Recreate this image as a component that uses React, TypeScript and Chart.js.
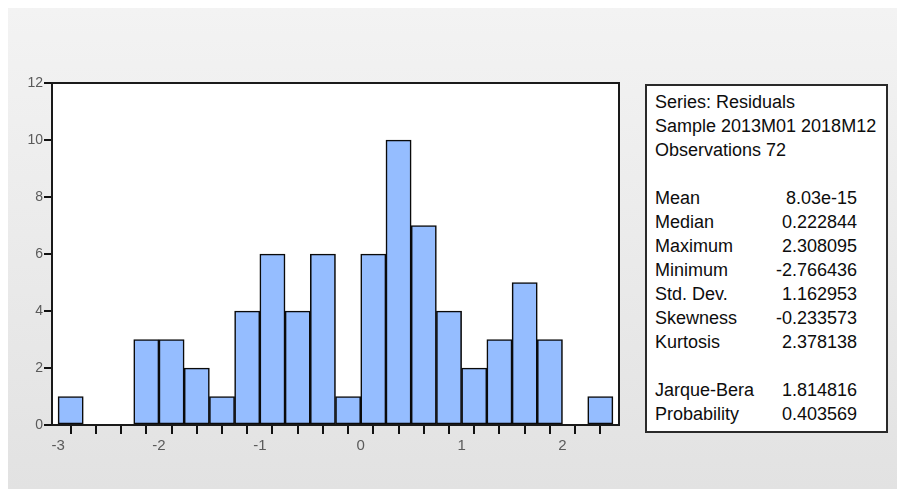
import React, { useEffect, useRef } from "react";
import { Chart, registerables } from "chart.js";

Chart.register(...registerables);

// ---- data ----
const binCenters = [
  -2.875, -2.625, -2.375, -2.125, -1.875, -1.625, -1.375, -1.125, -0.875, -0.625, -0.375,
  -0.125, 0.125, 0.375, 0.625, 0.875, 1.125, 1.375, 1.625, 1.875, 2.125, 2.375,
];
const counts = [1, 0, 0, 3, 3, 2, 1, 4, 6, 4, 6, 1, 6, 10, 7, 4, 2, 3, 5, 3, 0, 1];
const xTickValues = [
  -3, -2.75, -2.5, -2.25, -2, -1.75, -1.5, -1.25, -1, -0.75, -0.5, -0.25, 0, 0.25, 0.5,
  0.75, 1, 1.25, 1.5, 1.75, 2, 2.25, 2.5,
];
const xMin = -3.06;
const xMax = 2.56;
const yMin = 0;
const yMax = 12;
const yStep = 2;

const headerLines = ["Series: Residuals", "Sample 2013M01 2018M12", "Observations 72"];
const statLabels = ["Mean", "Median", "Maximum", "Minimum", "Std. Dev.", "Skewness", "Kurtosis"];
const statValues = ["8.03e-15", "0.222844", "2.308095", "-2.766436", "1.162953", "-0.233573", "2.378138"];
const testLabels = ["Jarque-Bera", "Probability"];
const testValues = ["1.814816", "0.403569"];

const FONT = "'Liberation Sans', Arial, sans-serif";

const framePlugin = {
  id: "frame",
  beforeDraw(chart: any) {
    const { ctx, chartArea } = chart;
    ctx.save();
    ctx.fillStyle = "#ffffff";
    ctx.fillRect(chartArea.left, chartArea.top, chartArea.right - chartArea.left, chartArea.bottom - chartArea.top);
    ctx.restore();
  },
  afterDatasetsDraw(chart: any) {
    const { ctx, chartArea } = chart;
    ctx.save();
    ctx.strokeStyle = "#1a1a1a";
    ctx.lineWidth = 2;
    ctx.strokeRect(chartArea.left, chartArea.top, chartArea.right - chartArea.left, chartArea.bottom - chartArea.top);
    ctx.restore();
  },
};

export default function App() {
  const canvasRef = useRef<HTMLCanvasElement | null>(null);

  useEffect(() => {
    if (!canvasRef.current) return;
    Chart.defaults.font.family = FONT;
    const chart = new Chart(canvasRef.current, {
      type: "bar",
      data: {
        datasets: [
          {
            label: "Residuals",
            data: binCenters.map((x, i) => ({ x, y: counts[i] })),
            backgroundColor: "#95bdff",
            borderColor: "#0a0a0a",
            borderWidth: 1.6,
            borderSkipped: false,
            barPercentage: 1,
            categoryPercentage: 1,
          },
        ],
      },
      options: {
        animation: false,
        responsive: true,
        maintainAspectRatio: false,
        layout: { padding: { left: 0, top: 75, right: 278, bottom: 0 } },
        plugins: {
          legend: { display: false },
          tooltip: { enabled: false },
        },
        scales: {
          x: {
            type: "linear",
            min: xMin,
            max: xMax,
            offset: false,
            afterBuildTicks: (scale: any) => {
              scale.ticks = xTickValues.map((v) => ({ value: v }));
            },
            afterFit: (scale: any) => {
              scale.height = 64;
            },
            border: { display: false },
            grid: {
              drawOnChartArea: false,
              drawTicks: true,
              tickLength: 9,
              color: "#111111",
              lineWidth: 2,
            },
            ticks: {
              autoSkip: false,
              maxRotation: 0,
              padding: 3,
              color: "#5a5a5a",
              font: { size: 15, family: FONT },
              callback: (v: any) => {
                const n = Number(v);
                return Math.abs(n - Math.round(n)) < 1e-9 ? String(Math.round(n)) : "";
              },
            },
          },
          y: {
            min: yMin,
            max: yMax,
            afterFit: (scale: any) => {
              scale.width = 44;
            },
            border: { display: false },
            grid: {
              drawOnChartArea: false,
              drawTicks: true,
              tickLength: 8,
              color: "#111111",
              lineWidth: 2,
            },
            ticks: {
              stepSize: yStep,
              padding: 1,
              color: "#5a5a5a",
              font: { size: 14, family: FONT },
            },
          },
        },
      },
      plugins: [framePlugin],
    });
    return () => chart.destroy();
  }, []);

  const rowStyle: React.CSSProperties = {
    height: 24,
    lineHeight: "24px",
    display: "flex",
    justifyContent: "space-between",
    whiteSpace: "nowrap",
  };
  const blank = <div style={{ height: 24 }} />;

  return (
    <div
      style={{
        position: "absolute",
        left: 8,
        top: 8,
        width: 889,
        height: 481,
        background: "linear-gradient(#f3f3f3, #e2e2e2)",
        overflow: "hidden",
      }}
    >
      <div style={{ position: "absolute", left: 0, top: 0, width: 889, height: 481 }}>
        <canvas ref={canvasRef} />
      </div>
      <div
        style={{
          position: "absolute",
          left: 637,
          top: 76,
          width: 243,
          height: 349,
          boxSizing: "border-box",
          border: "2px solid #2a2a2a",
          background: "#ffffff",
          padding: "4px 29px 0 8px",
          fontFamily: FONT,
          fontSize: 18,
          color: "#0d0d0d",
        }}
      >
        {headerLines.map((t) => (
          <div key={t} style={rowStyle}>
            {t}
          </div>
        ))}
        {blank}
        {statLabels.map((l, i) => (
          <div key={l} style={rowStyle}>
            <span>{l}</span>
            <span>{statValues[i]}</span>
          </div>
        ))}
        {blank}
        {testLabels.map((l, i) => (
          <div key={l} style={rowStyle}>
            <span>{l}</span>
            <span>{testValues[i]}</span>
          </div>
        ))}
      </div>
    </div>
  );
}
